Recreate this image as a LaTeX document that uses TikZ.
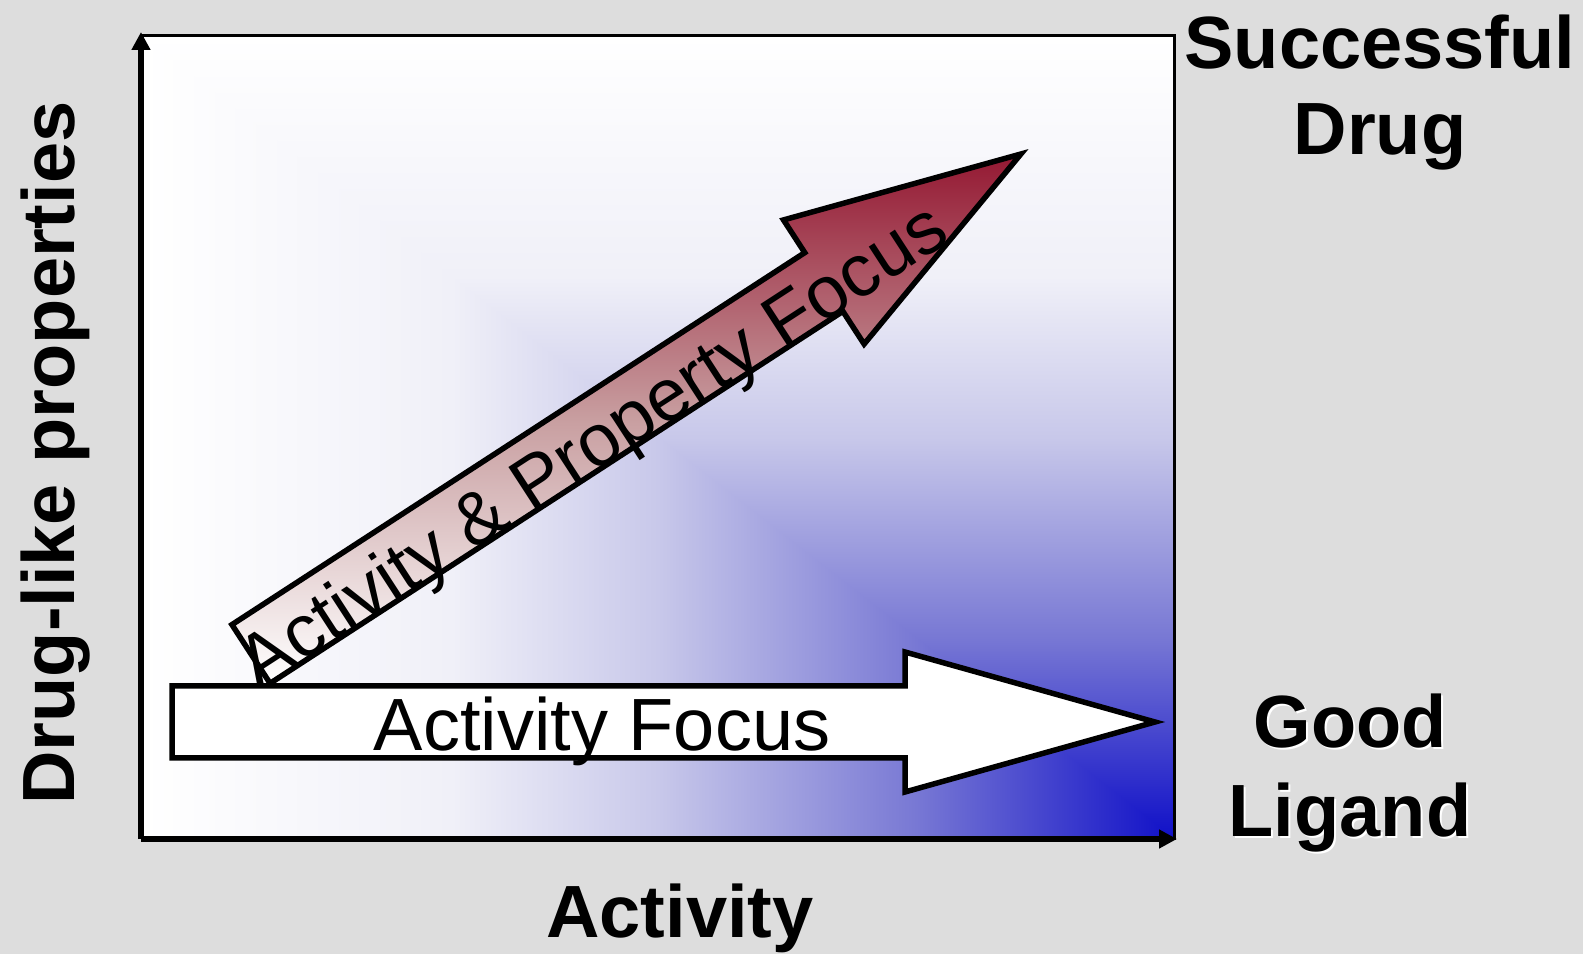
\documentclass[tikz,border=0pt]{standalone}
\usepackage{fontspec}
\setmainfont{Liberation Sans}
\usetikzlibrary{arrows.meta}

\definecolor{panelgray}{RGB}{221,221,221}
\definecolor{fadeA}{RGB}{240,240,248}
\definecolor{fadeB}{RGB}{200,200,234}
\definecolor{fadeC}{RGB}{120,120,212}
\definecolor{deepblue}{RGB}{16,16,200}
\definecolor{arrowred}{RGB}{148,24,50}
\definecolor{arrowpink}{RGB}{200,158,160}

% blue fade of the plot area, one along x and one along y
\pgfdeclarehorizontalshading{activityfade}{100bp}{color(0bp)=(white); color(25bp)=(white); color(40bp)=(fadeA); color(50bp)=(fadeB); color(62.5bp)=(fadeC); color(75bp)=(deepblue); color(100bp)=(deepblue)}
\pgfdeclareverticalshading{propertyfade}{100bp}{color(0bp)=(deepblue); color(25bp)=(deepblue); color(37.5bp)=(fadeC); color(50bp)=(fadeB); color(60bp)=(fadeA); color(75bp)=(white); color(100bp)=(white)}

\def\riseangle{33}

\begin{document}
\begin{tikzpicture}[x=1pt,y=1pt,
  axisline/.style={line width=6pt, -{Triangle[length=18pt,width=18pt]}},
  blockarrow/.style={draw=black, line width=5.5pt},
  axistitle/.style={font=\bfseries\fontsize{74}{86}\selectfont, inner sep=0pt},
  arrowtext/.style={font=\fontsize{74}{86}\selectfont, inner sep=0pt, anchor=base}]

\useasboundingbox (0,0) rectangle (1583,954);
\fill[panelgray] (0,0) rectangle (1583,954);

% plot area
\shade[shading=propertyfade] (142,116) rectangle (1174,918);
\shade[shading=activityfade] (142,116) -- (1174,116) -- (142,918) -- cycle;
\draw[line width=3pt] (142,116) rectangle (1174,918);

% axes
\coordinate (origin) at (141,115);
\coordinate (ytop) at (141,922);
\coordinate (xend) at (1177,115);
\draw[axisline] (origin) -- (ytop);
\draw[axisline] (origin) -- (xend);

% rising arrow
\begin{scope}[shift={(251,300)}, rotate=\riseangle]
  \draw[blockarrow, top color=arrowred, bottom color=white, middle color=arrowpink]
    (0,-35) -- (683,-35) -- (683,-74) -- (918,0) -- (683,74) -- (683,35) -- (0,35) -- cycle;
  \node[arrowtext, rotate=\riseangle] (bothfocus) at (400,-35) {Activity \& Property Focus};
\end{scope}

% flat arrow
\draw[blockarrow, fill=white]
  (172,268) -- (905,268) -- (905,302) -- (1155,232) -- (905,162) -- (905,196) -- (172,196) -- cycle;
\node[arrowtext] (activityfocus) at (602,204) {Activity Focus};

% titles
\node[axistitle, anchor=base] (xtitle) at (680,17) {Activity};
\node[axistitle, anchor=base, rotate=90] (ytitle) at (74,501) {Drug-like properties};
\node[axistitle, align=center] (drug) at (1380,861) {Successful\\Drug};
\node[axistitle, align=center, font=\bfseries\fontsize{74}{89}\selectfont, text=white] (ligandshadow) at (1352,179) {Good\\Ligand};
\node[axistitle, align=center, font=\bfseries\fontsize{74}{89}\selectfont] (ligand) at (1350,181) {Good\\Ligand};
\end{tikzpicture}
\end{document}
